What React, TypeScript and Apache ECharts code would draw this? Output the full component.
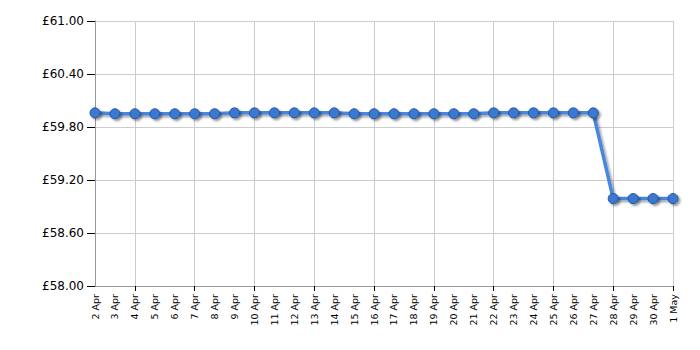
import React, { useEffect, useRef } from "react";
import * as echarts from "echarts";

const categories = [
  "2 Apr", "3 Apr", "4 Apr", "5 Apr", "6 Apr", "7 Apr", "8 Apr", "9 Apr", "10 Apr", "11 Apr",
  "12 Apr", "13 Apr", "14 Apr", "15 Apr", "16 Apr", "17 Apr", "18 Apr", "19 Apr", "20 Apr", "21 Apr",
  "22 Apr", "23 Apr", "24 Apr", "25 Apr", "26 Apr", "27 Apr", "28 Apr", "29 Apr", "30 Apr", "1 May",
];

const prices = [
  59.96, 59.95, 59.95, 59.95, 59.95, 59.95, 59.95, 59.96, 59.96, 59.96,
  59.96, 59.96, 59.96, 59.95, 59.95, 59.95, 59.95, 59.95, 59.95, 59.95,
  59.96, 59.96, 59.96, 59.96, 59.96, 59.96, 58.99, 58.99, 58.99, 58.99,
];

const yMin = 58;
const yMax = 61;
const yStep = 0.6;

export default function App() {
  const ref = useRef<HTMLDivElement>(null);
  useEffect(() => {
    if (!ref.current) return;
    const chart = echarts.init(ref.current, undefined, { renderer: "svg" });
    const every3 = (i: number) => i % 3 === 2;
    chart.setOption({
      animation: false,
      backgroundColor: "#ffffff",
      grid: { left: 95, right: 27, top: 21, bottom: 64, containLabel: false },
      xAxis: {
        type: "category",
        data: categories,
        boundaryGap: false,
        axisLine: { show: true, lineStyle: { color: "#999999", width: 1 } },
        axisTick: { show: true, interval: every3, length: 5, lineStyle: { color: "#000000" } },
        axisLabel: {
          interval: 0,
          rotate: 90,
          fontFamily: "DejaVu Sans",
          fontSize: 9.5,
          color: "#000000",
          margin: 8,
        },
        splitLine: { show: true, interval: every3, lineStyle: { color: "#cccccc", width: 1 } },
      },
      yAxis: {
        type: "value",
        min: yMin,
        max: yMax,
        interval: yStep,
        axisLine: { show: true, lineStyle: { color: "#999999", width: 1 } },
        axisTick: { show: true, length: 8, lineStyle: { color: "#000000" } },
        axisLabel: {
          formatter: (v: number) => "£" + v.toFixed(2),
          fontFamily: "DejaVu Sans",
          fontSize: 12,
          color: "#000000",
          margin: 11,
        },
        splitLine: { show: true, lineStyle: { color: "#cccccc", width: 1 } },
      },
      series: [
        {
          type: "line",
          data: prices,
          symbol: "circle",
          symbolSize: 10,
          showSymbol: true,
          lineStyle: {
            color: "#4a86e0",
            width: 3.5,
            shadowColor: "rgba(0,0,0,0.35)",
            shadowBlur: 2,
            shadowOffsetX: 2,
            shadowOffsetY: 2,
          },
          itemStyle: {
            color: "#3a78d0",
            borderColor: "#24549e",
            borderWidth: 1,
            shadowColor: "rgba(0,0,0,0.4)",
            shadowBlur: 2,
            shadowOffsetX: 2,
            shadowOffsetY: 2,
          },
        },
      ],
    });
    return () => chart.dispose();
  }, []);
  return (
    <div
      ref={ref}
      style={{ position: "absolute", left: 0, top: 0, width: 700, height: 350 }}
    />
  );
}
